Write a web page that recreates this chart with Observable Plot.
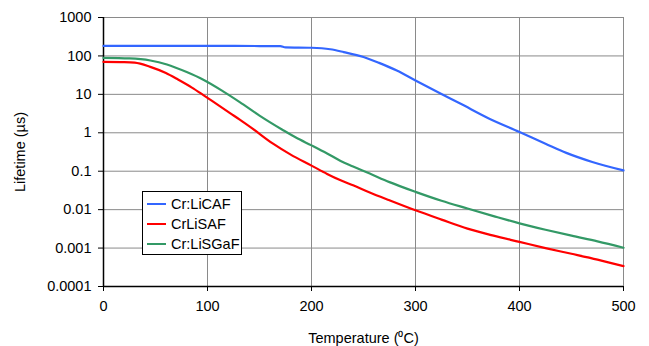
<!DOCTYPE html>
<html>
<head>
<meta charset="utf-8">
<script src="https://cdn.jsdelivr.net/npm/d3@7"></script>
<script src="https://cdn.jsdelivr.net/npm/@observablehq/plot@0.6"></script>
<style>
  html, body { margin: 0; padding: 0; background: #fff; }
  #wrap { position: relative; width: 649px; height: 346px; font-family: Arial, "Liberation Sans", sans-serif; }
  #legend { position: absolute; left: 142px; top: 191px; width: 98px; height: 62px; border: 1px solid #000; background: #fff; font-size: 14.5px; }
  .item { position: absolute; left: 4px; height: 20px; line-height: 20px; white-space: nowrap; }
  .sw { display: inline-block; width: 19px; height: 2px; vertical-align: middle; margin-right: 5px; position: relative; top: -1px; }
</style>
</head>
<body>
<div id="wrap"><div id="legend"></div></div>
<script>
const seriesNames = ["Cr:LiCAF", "CrLiSAF", "Cr:LiSGaF"];
const seriesColors = ["#3366ff", "#ff0000", "#339966"];

const licafT = [0, 50, 100, 150, 170, 175, 200, 218, 231, 250, 265, 282, 300, 324, 343, 370, 400, 425, 445, 470, 500];
const licafV = [182, 182, 182, 181, 180, 167, 163, 149, 126, 94, 66, 41.7, 22.9, 10.5, 5.75, 2.4, 1.05, 0.52, 0.30, 0.174, 0.105];

const lisafT = [0, 20, 30, 45, 60, 72, 85, 95, 110, 122, 131, 143, 163, 180, 200, 215, 228, 240, 256, 275, 300, 325, 350, 375, 400, 425, 450, 475, 500];
const lisafV = [70, 69, 67, 52, 36, 24, 15, 10, 5.3, 3.2, 2.2, 1.3, 0.52, 0.27, 0.14, 0.085, 0.058, 0.043, 0.028, 0.0175, 0.0096, 0.0055, 0.0032, 0.0021, 0.00145, 0.001, 0.00071, 0.0005, 0.00034];

const lisgafT = [0, 25, 45, 61, 80, 96, 115, 131, 150, 172, 185, 200, 215, 228, 240, 256, 275, 300, 325, 350, 375, 400, 425, 450, 475, 500];
const lisgafV = [89, 86, 76, 60, 38, 24, 12, 6.3, 2.8, 1.2, 0.75, 0.47, 0.29, 0.185, 0.133, 0.087, 0.052, 0.029, 0.017, 0.0107, 0.0068, 0.0044, 0.003, 0.0021, 0.0015, 0.00102];

const xTicks = [0, 100, 200, 300, 400, 500];
const yTicks = [0.0001, 0.001, 0.01, 0.1, 1, 10, 100, 1000];
const yTickLabels = ["0.0001", "0.001", "0.01", "0.1", "1", "10", "100", "1000"];

const rows = [];
[[licafT, licafV], [lisafT, lisafV], [lisgafT, lisgafV]].forEach(([ts, vs], i) => {
  ts.forEach((t, j) => rows.push({ series: seriesNames[i], t, v: vs[j] }));
});

const chart = Plot.plot({
  width: 649,
  height: 346,
  marginLeft: 103,
  marginRight: 26,
  marginTop: 17,
  marginBottom: 60,
  style: { fontFamily: "Arial, 'Liberation Sans', sans-serif", fontSize: "14.5px", background: "#fff", color: "#000" },
  x: { domain: [0, 500] },
  y: { type: "log", domain: [0.0001, 1000] },
  color: { domain: seriesNames, range: seriesColors },
  marks: [
    Plot.gridX(xTicks, { stroke: "#8a8a8a", strokeOpacity: 1, strokeWidth: 1 }),
    Plot.gridY(yTicks, { stroke: "#8a8a8a", strokeOpacity: 1, strokeWidth: 1 }),
    Plot.axisX(xTicks, { tickSize: 5, tickPadding: 9, tickFormat: d => String(d), label: "Temperature (\u2070C)", labelAnchor: "center", labelArrow: "none", labelOffset: 56, stroke: "#000" }),
    Plot.axisY(yTicks, { tickSize: 5, tickPadding: 7, tickFormat: d => yTickLabels[yTicks.indexOf(d)], label: "Lifetime (\u00b5s)", labelAnchor: "center", labelArrow: "none", labelOffset: 89, stroke: "#000" }),
    Plot.ruleX([0], { stroke: "#000", strokeWidth: 1.5 }),
    Plot.ruleY([0.0001], { stroke: "#000", strokeWidth: 1.5 }),
    Plot.line(rows, { x: "t", y: "v", z: "series", stroke: "series", strokeWidth: 2.2, curve: "monotone-x" })
  ]
});
document.getElementById("wrap").prepend(chart);

const legend = document.getElementById("legend");
seriesNames.forEach((name, i) => {
  const d = document.createElement("div");
  d.className = "item";
  d.style.top = (2 + i * 20) + "px";
  d.innerHTML = `<span class="sw" style="background:${seriesColors[i]}"></span>${name}`;
  legend.appendChild(d);
});
</script>
</body>
</html>
